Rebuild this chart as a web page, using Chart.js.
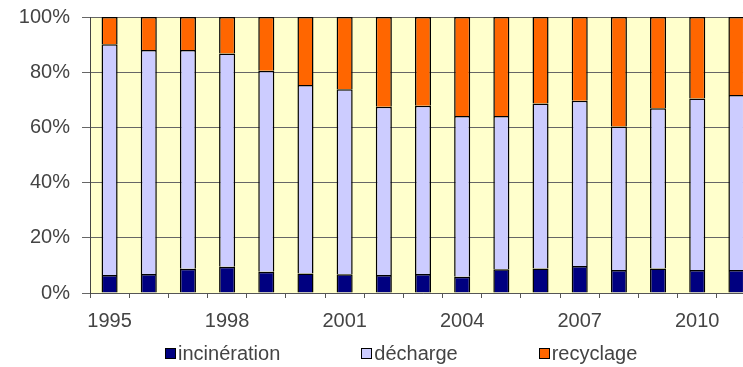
<!DOCTYPE html>
<html lang="fr">
<head>
  <meta charset="UTF-8" />
  <title>Traitement des déchets 1995-2011</title>
  <script src="https://cdn.jsdelivr.net/npm/chart.js"></script>
  <style>
    html, body { margin: 0; padding: 0; background: #fff; overflow: hidden; }
    #wrap { position: relative; width: 758px; height: 367px; }
    #legend {
      position: absolute; left: 165px; top: 342px;
      display: flex; gap: 81px;
      font: 20px "Liberation Sans", Arial, sans-serif; color: #444;
    }
    #legend .item { display: flex; align-items: center; }
    #legend .box { width: 9px; height: 9px; border: 1px solid #000; margin-right: 2px; }
  </style>
</head>
<body>
  <div id="wrap">
    <canvas id="chart"></canvas>
    <div id="legend"></div>
  </div>

  <script>
    // years on the x axis
    const years = ['1995', '1996', '1997', '1998', '1999', '2000', '2001', '2002', '2003',
                   '2004', '2005', '2006', '2007', '2008', '2009', '2010', '2011'];

    // shares in %
    const incineration = [6.5, 6.9, 8.8, 9.5, 7.7, 7.1, 6.8, 6.5, 6.9, 5.9, 8.6, 8.9, 9.8, 8.3, 8.9, 8.3, 8.3];
    const decharge     = [83.6, 81.1, 79.2, 77.3, 72.8, 68.3, 67.0, 61.0, 60.9, 58.2, 55.5, 59.8, 59.9, 52.0, 58.0, 62.2, 63.4];
    const recyclage    = [9.9, 12.0, 12.0, 13.2, 19.5, 24.6, 26.2, 32.5, 32.2, 35.9, 35.9, 31.3, 30.3, 39.7, 33.1, 29.5, 28.3];

    const yTicks = [0, 20, 40, 60, 80, 100];

    const series = [
      { label: 'incinération', data: incineration, color: '#000080' },
      { label: 'décharge', data: decharge, color: '#CCCCFF' },
      { label: 'recyclage', data: recyclage, color: '#FF6600' }
    ];

    const font = { family: '"Liberation Sans", Arial, sans-serif', size: 20 };

    // pale yellow plot area
    const plotBg = {
      id: 'plotBg',
      beforeDraw(chart) {
        const { ctx, chartArea: a } = chart;
        ctx.save();
        ctx.fillStyle = '#FFFFCC';
        ctx.fillRect(a.left, a.top, a.right - a.left, a.bottom - a.top);
        ctx.restore();
      }
    };

    const canvas = document.getElementById('chart');
    canvas.width = 758;
    canvas.height = 367;

    new Chart(canvas, {
      type: 'bar',
      data: {
        labels: years,
        datasets: series.map(s => ({
          label: s.label,
          data: s.data,
          backgroundColor: s.color,
          borderColor: '#000',
          borderWidth: 1.5,
          categoryPercentage: 1,
          barPercentage: 0.41
        }))
      },
      options: {
        responsive: false,
        animation: false,
        layout: { padding: { top: 17, right: 2, left: 0, bottom: 0 } },
        plugins: { legend: { display: false }, tooltip: { enabled: false } },
        scales: {
          x: {
            stacked: true,
            afterFit(scale) { scale.height = 74; scale.paddingLeft = 0; scale.paddingRight = 0; },
            grid: { drawOnChartArea: false, drawTicks: true, tickLength: 5, color: '#555' },
            border: { color: '#555', width: 1 },
            ticks: {
              autoSkip: false,
              maxRotation: 0,
              padding: 11,
              color: '#444',
              font: font,
              callback(v, i) { return i % 3 === 0 ? years[i] : ''; }
            }
          },
          y: {
            stacked: true,
            min: 0,
            max: 100,
            afterFit(scale) { scale.width = 90; scale.paddingTop = 0; scale.paddingBottom = 0; },
            afterBuildTicks(scale) { scale.ticks = yTicks.map(v => ({ value: v })); },
            grid: { color: '#666', tickLength: 8, lineWidth: 1 },
            border: { color: '#444', width: 1 },
            ticks: {
              padding: 12,
              color: '#444',
              font: font,
              callback(v) { return v + '%'; }
            }
          }
        }
      },
      plugins: [plotBg]
    });

    // legend as html text
    const legend = document.getElementById('legend');
    series.forEach(s => {
      const item = document.createElement('div');
      item.className = 'item';
      item.innerHTML = '<span class="box" style="background:' + s.color + '"></span><span>' + s.label + '</span>';
      legend.appendChild(item);
    });
  </script>
</body>
</html>
